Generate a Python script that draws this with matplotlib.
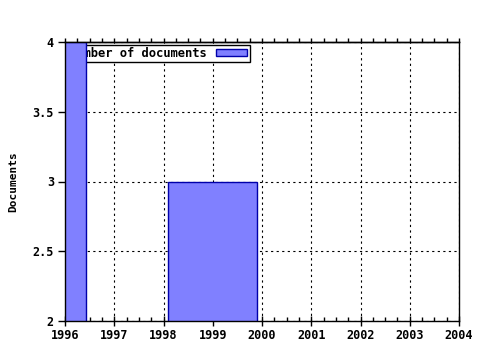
import matplotlib
matplotlib.use("Agg")
import matplotlib.pyplot as plt
from matplotlib.ticker import MultipleLocator, FuncFormatter

years = [1996, 1999]
bar_widths = [0.86, 1.8]
documents = [4, 3]
series_label = "Number of documents"
y_label = "Documents"
x_ticks = [1996, 1997, 1998, 1999, 2000, 2001, 2002, 2003, 2004]
y_ticks = [2, 2.5, 3, 3.5, 4]

plt.rcParams['font.family'] = ['DejaVu Sans Mono']
plt.rcParams['font.weight'] = 'bold'
plt.rcParams['font.size'] = 8

fig = plt.figure(figsize=(4.8, 3.5), dpi=100)
ax = fig.add_axes([65/480, 1 - 321/350, (459-65)/480, (321-42)/350])

bars = ax.bar(years, documents, width=bar_widths, bottom=0, color='#8080ff',
              edgecolor='#0000aa', linewidth=1, label=series_label, zorder=3)

ax.set_xlim(1996, 2004)
ax.set_ylim(2, 4)
ax.set_xticks(x_ticks)
ax.set_yticks(y_ticks)
ax.xaxis.set_minor_locator(MultipleLocator(0.25))
ax.yaxis.set_major_formatter(FuncFormatter(lambda v, p: '%g' % v))

ax.grid(True, which='major', linestyle=(0, (2, 3)), color='black', linewidth=0.8, zorder=0)
ax.set_axisbelow(True)

for side in ['left', 'bottom', 'top', 'right']:
    ax.spines[side].set_linewidth(1)
    ax.spines[side].set_zorder(5)

ax.tick_params(axis='x', which='major', direction='inout', length=7, width=1,
               top=False, bottom=True, labeltop=False, pad=2, labelsize=8.5)
ax.tick_params(axis='x', which='minor', direction='in', length=3, width=1,
               top=False, bottom=True)
ax.tick_params(axis='y', which='major', direction='out', length=5, width=1,
               left=True, right=False, pad=3, labelsize=8.5)
ax.tick_params(axis='y', which='minor', left=False, right=False)

# top axis ticks (outward)
axt = ax.secondary_xaxis('top')
axt.set_xticks(x_ticks)
axt.xaxis.set_minor_locator(MultipleLocator(0.25))
axt.tick_params(which='both', direction='out', length=3, width=1, labeltop=False)
axt.spines['top'].set_linewidth(1)

ax.set_ylabel(y_label, fontsize=8, fontweight='bold', labelpad=10)

leg = ax.legend(loc='upper left', bbox_to_anchor=(0.0, 0.995), frameon=True,
                fancybox=False, edgecolor='black', framealpha=1,
                borderpad=0.2, handlelength=2.6, handleheight=0.55,
                handletextpad=0.8, borderaxespad=0.1, markerfirst=False,
                prop={'family': 'DejaVu Sans Mono', 'weight': 'bold', 'size': 8.7})
leg.get_frame().set_linewidth(1)
leg.set_zorder(2)

fig.savefig('out.png', dpi=100)
